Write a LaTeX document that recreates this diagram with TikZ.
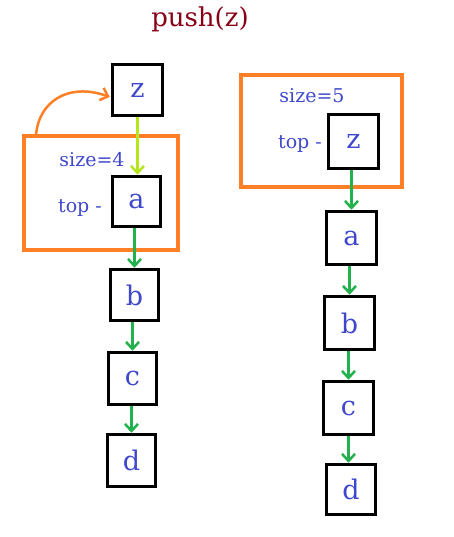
\documentclass[tikz,border=0pt]{standalone}
\usepackage{fontspec}
\setmainfont{DejaVu Serif}
\usetikzlibrary{arrows.meta}
\definecolor{pblue}{RGB}{63,72,204}
\definecolor{pred}{RGB}{136,0,21}
\definecolor{porange}{RGB}{255,127,39}
\definecolor{pgreen}{RGB}{34,177,76}
\definecolor{plime}{RGB}{181,230,29}
\tikzset{
  cell/.style={draw=black, line width=3.5pt, text=pblue, font=\fontsize{27}{29}\selectfont, inner sep=0pt},
  frame/.style={draw=porange, line width=3.2pt},
  lbl/.style={text=pblue, font=\fontsize{19}{21}\selectfont, inner sep=0pt},
  link/.style={draw=pgreen, line width=3pt, -{Straight Barb[length=7pt,width=13pt,line width=2.5pt]}},
  lime link/.style={link, draw=plime},
}
\begin{document}
\begin{tikzpicture}[x=1pt,y=-1pt]
\useasboundingbox (0,0) rectangle (453,537);
\node[text=pred, font=\fontsize{26}{28}\selectfont] (title) at (200,19) {push(z)};
% left
\draw[frame] (24,136) rectangle (178,250);
\coordinate (lstart) at (36,136);
\node[lbl] (ls) at (92,160) {size=4};
\node[lbl] (lt) at (80,208) {top -};
\node[cell, minimum width=50pt, minimum height=51pt] (lz) at (137.5,90) {z};
\node[cell, minimum width=48pt, minimum height=50pt] (la) at (136.5,201.5) {a};
\node[cell, minimum width=48pt, minimum height=51pt] (lb) at (134.5,295) {b};
\node[cell, minimum width=48pt, minimum height=52pt] (lc) at (132.5,378.5) {c};
\node[cell, minimum width=48pt, minimum height=52pt] (ld) at (131.5,460.5) {d};
\draw[lime link] (lz.south) -- (lz.south |- la.north);
\draw[link] (la.south -| lb.north) -- (lb.north);
\draw[link] (lb.south -| lc.north) -- (lc.north);
\draw[link] (lc.south -| ld.north) -- (ld.north);
\draw[draw=porange, line width=2.5pt, -{Straight Barb[length=7pt,width=13pt,line width=2.5pt]}]
  (lstart) .. controls (38,102) and (68,82) .. ([xshift=-1pt,yshift=-7pt]lz.west);
% right
\draw[frame] (241,75) rectangle (402,187);
\node[lbl] (rs) at (312,96) {size=5};
\node[lbl] (rt) at (300,144) {top -};
\node[cell, minimum width=50pt, minimum height=54pt] (rz) at (353.5,141.5) {z};
\node[cell, minimum width=50pt, minimum height=53pt] (ra) at (351.5,238) {a};
\node[cell, minimum width=50pt, minimum height=53pt] (rb) at (349.5,323) {b};
\node[cell, minimum width=50pt, minimum height=53pt] (rc) at (348.5,408) {c};
\node[cell, minimum width=49pt, minimum height=50pt] (rd) at (351,489.5) {d};
\draw[link] (rz.south -| ra.north) -- (ra.north);
\draw[link] (ra.south -| rb.north) -- (rb.north);
\draw[link] (rb.south -| rc.north) -- (rc.north);
\draw[link] (rc.south -| rc.north) -- (rc.north |- rd.north);
\end{tikzpicture}
\end{document}
